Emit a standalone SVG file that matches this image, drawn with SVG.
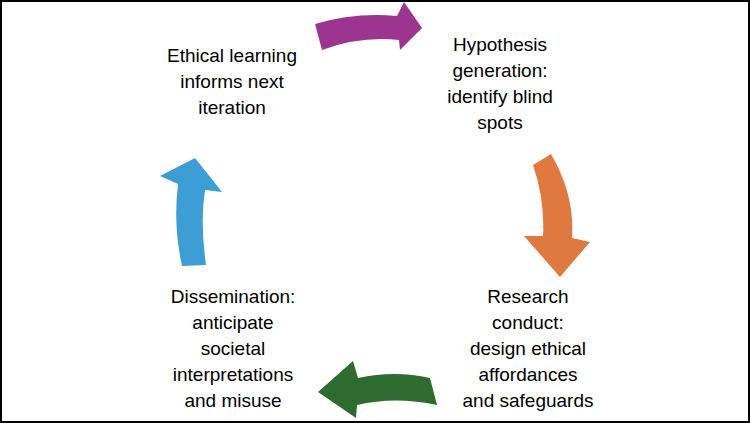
<svg xmlns="http://www.w3.org/2000/svg" width="750" height="423" viewBox="0 0 750 423">
<style>
text{font-family:"Liberation Sans",Arial,sans-serif;font-size:19px;fill:#000;text-anchor:middle}
</style>
<rect x="1" y="1" width="748" height="421" fill="#fff" stroke="#000" stroke-width="2"/>
<g id="connectors">
<path id="a1" fill="#9b3590" d="M315,24 Q355,12 397,16 L404,2 L422,28 L400,50 L399,40 Q360,36 322,50 Z"/>
<path id="a2" fill="#e0793f" d="M533,165 L551,154 Q575,195 572,238 L590,242 L560,277 L524,236 L543,236 Q545,200 533,165 Z"/>
<path id="a3" fill="#2e6b2e" d="M437,405 L430,378 Q395,370 358,378 L353,361 L318,392 L356,418 L357,405 Q395,396 437,405 Z"/>
<path id="a4" fill="#3d9ed6" d="M182,266 L206,265 Q200,222 205,190 L222,192 L195,158 L160,176 L178,184 Q173,225 182,266 Z"/>
</g>
<g id="n1"><text x="232" y="62">Ethical learning</text><text x="232" y="88">informs next</text><text x="232" y="114">iteration</text></g>
<g id="n2"><text x="500" y="51">Hypothesis</text><text x="500" y="77">generation:</text><text x="500" y="103">identify blind</text><text x="500" y="129">spots</text></g>
<g id="n3"><text x="528" y="303">Research</text><text x="528" y="329">conduct:</text><text x="528" y="355">design ethical</text><text x="528" y="381">affordances</text><text x="528" y="407">and safeguards</text></g>
<g id="n4"><text x="233" y="303">Dissemination:</text><text x="233" y="329">anticipate</text><text x="233" y="355">societal</text><text x="233" y="381">interpretations</text><text x="233" y="407">and misuse</text></g>
</svg>
